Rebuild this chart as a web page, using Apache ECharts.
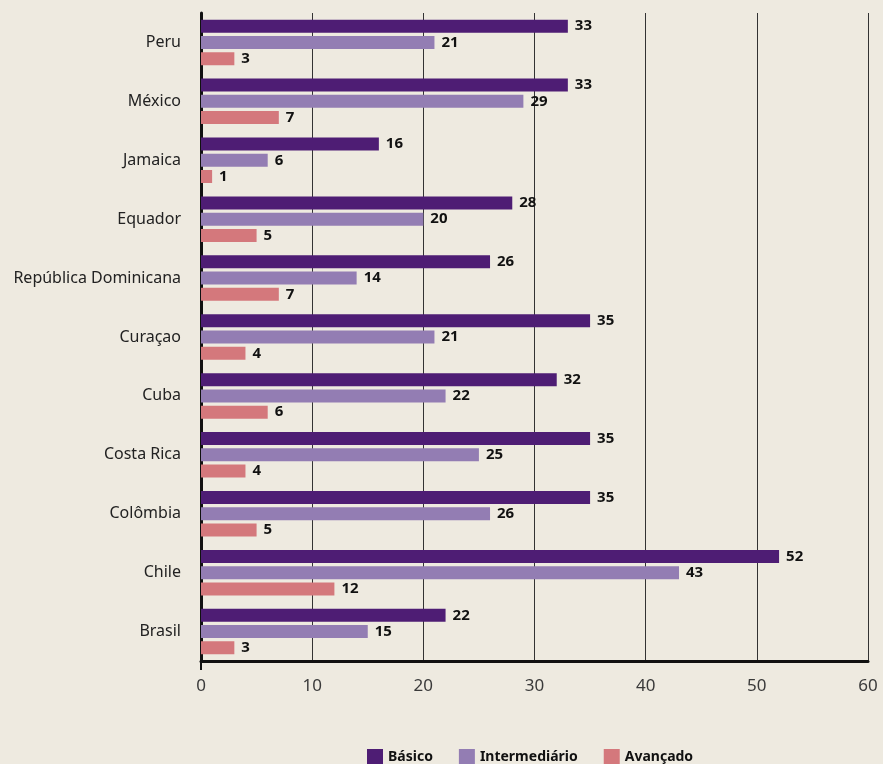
<!DOCTYPE html>
<html>
<head>
<meta charset="utf-8">
<script src="https://cdn.jsdelivr.net/npm/echarts@6/dist/echarts.min.js"></script>
<style>
  html, body { margin: 0; padding: 0; background: #eeeae0; }
  #chart { width: 883px; height: 764px; }
</style>
</head>
<body>
<div id="chart"></div>
<script>
// países, de cima para baixo
const paises = ['Peru', 'México', 'Jamaica', 'Equador', 'República Dominicana', 'Curaçao', 'Cuba', 'Costa Rica', 'Colômbia', 'Chile', 'Brasil'];
const basico = [33, 33, 16, 28, 26, 35, 32, 35, 35, 52, 22];
const intermediario = [21, 29, 6, 20, 14, 21, 22, 25, 26, 43, 15];
const avancado = [3, 7, 1, 5, 7, 4, 6, 4, 5, 12, 3];
const xTicks = [0, 10, 20, 30, 40, 50, 60];

const fonte = '"Noto Sans", sans-serif';

function serie (name, data, color) {
  return {
    name: name,
    type: 'bar',
    data: data,
    barWidth: 13,
    barGap: '25%',
    itemStyle: { color: color },
    label: {
      show: true,
      position: 'right',
      distance: 7,
      color: '#111',
      fontWeight: 'bold',
      fontSize: 15,
      fontFamily: fonte
    }
  }
}

const option = {
  backgroundColor: '#eeeae0',
  animation: false,
  grid: { left: 201, right: 15, top: 13, bottom: 103 },
  legend: {
    left: 362,
    top: 744,
    itemWidth: 16,
    itemHeight: 16,
    itemGap: 26,
    icon: 'rect',
    textStyle: { color: '#111', fontWeight: 'bold', fontSize: 14, fontFamily: fonte }
  },
  xAxis: [{
    type: 'value',
    min: 0,
    max: 60,
    interval: 10,
    axisLine: { show: true, lineStyle: { color: '#111', width: 3 } },
    // só o tracinho abaixo do zero
    axisTick: { show: true, customValues: [0], length: 9, lineStyle: { color: '#111', width: 2 } },
    axisLabel: { color: '#3a3a3a', fontSize: 17, margin: 17, fontFamily: fonte, customValues: xTicks },
    splitLine: { show: false }
  }, {
    // eixo auxiliar, só para as linhas verticais
    type: 'value',
    min: 0,
    max: 60,
    interval: 10,
    axisLine: { show: false },
    axisTick: { show: false },
    axisLabel: { show: false },
    splitLine: { show: true, lineStyle: { color: '#333', width: 1 } }
  }],
  yAxis: {
    type: 'category',
    inverse: true,
    data: paises,
    axisLine: { show: true, lineStyle: { color: '#111', width: 3 } },
    axisTick: { show: false },
    axisLabel: { color: '#222', fontSize: 16, margin: 20, fontFamily: fonte }
  },
  series: [
    serie('Básico', basico, '#4e1d74'),
    serie('Intermediário', intermediario, '#937db3'),
    serie('Avançado', avancado, '#d4787c')
  ]
};

const chart = echarts.init(document.getElementById('chart'));
chart.setOption(option);
</script>
</body>
</html>
